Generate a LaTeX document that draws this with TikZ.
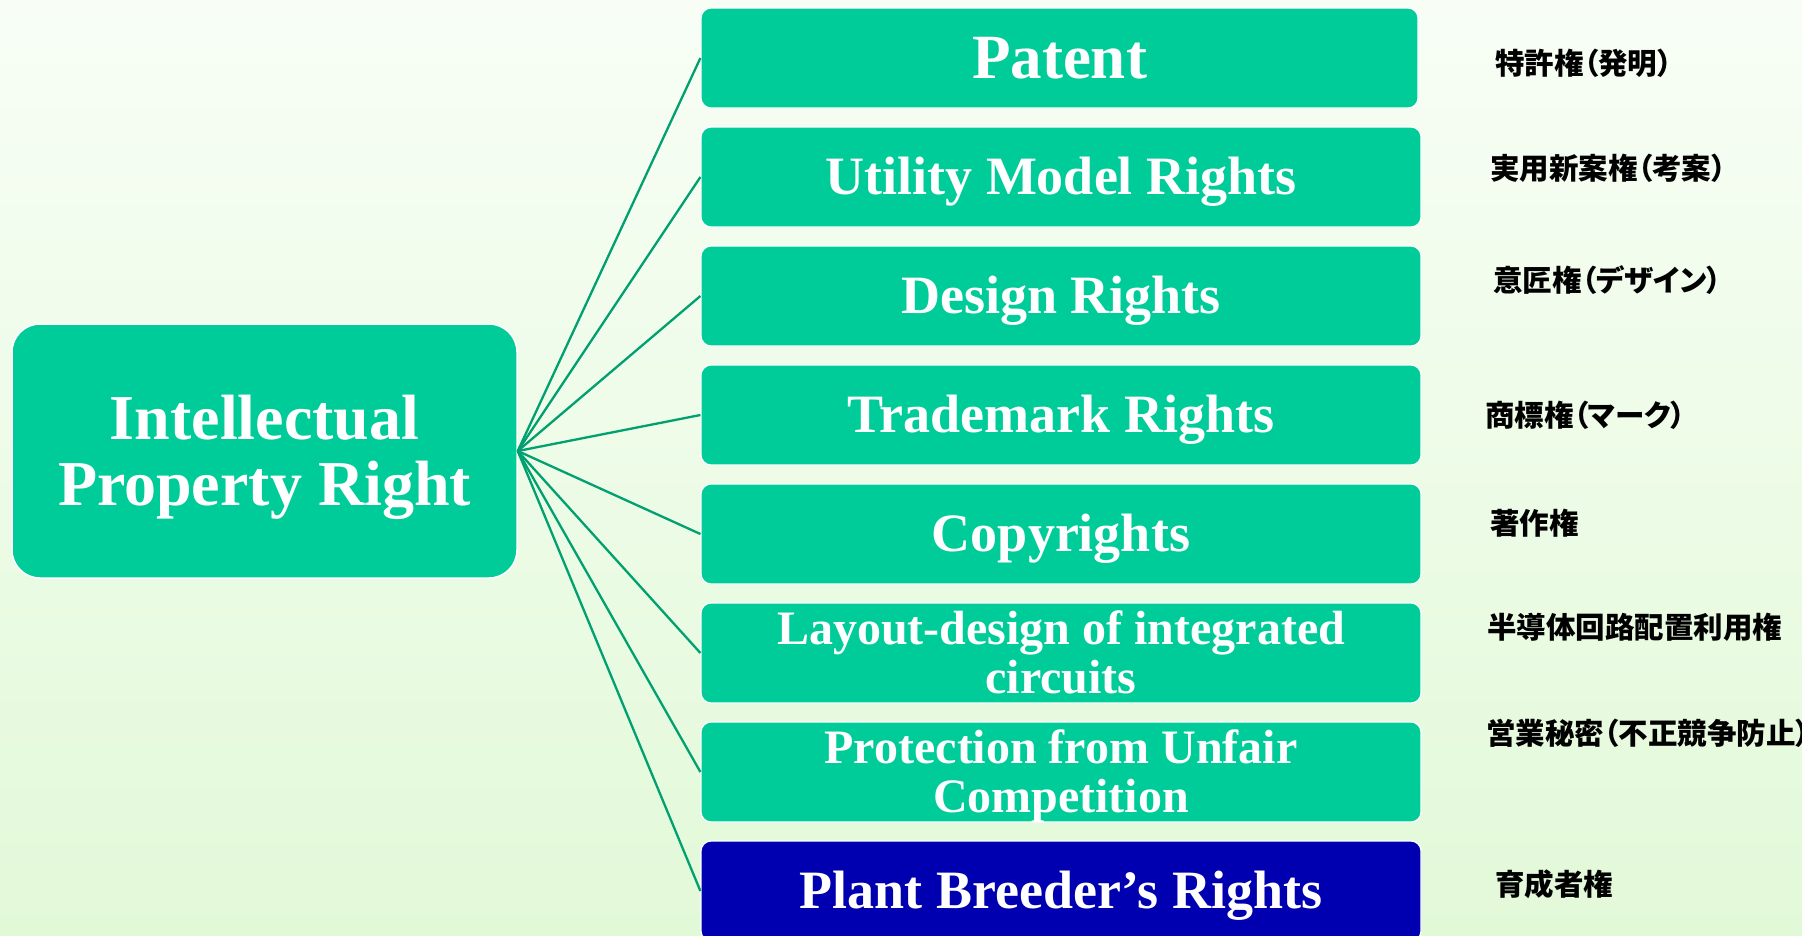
\documentclass[tikz,border=0pt]{standalone}
\usepackage{fontspec}
\setmainfont{Liberation Serif}
\newfontfamily\jpfont[RawFeature=+palt]{Noto Sans CJK JP}
\definecolor{boxgreen}{HTML}{00CC99}
\definecolor{boxblue}{HTML}{0000B0}
\definecolor{conncol}{HTML}{00A070}
\definecolor{bgtop}{HTML}{F8FEF6}
\definecolor{bgbot}{HTML}{E2F9D8}
\tikzset{
  rbox/.style={draw=white, line width=1.2pt, fill=boxgreen, rounded corners=10pt,
    minimum width=720pt, minimum height=100pt, inner sep=0pt, text=white,
    font=\bfseries\fontsize{54}{56}\selectfont, text height=35.7pt, text depth=0pt},
  rboxtwo/.style={rbox, font=\bfseries\fontsize{48}{49}\selectfont, text height=31.8pt, text depth=49pt},
  lbox/.style={draw=white, line width=1.5pt, fill=boxgreen, rounded corners=28pt,
    minimum width=505pt, minimum height=254pt, inner sep=0pt, text=white,
    font=\bfseries\fontsize{64}{66}\selectfont, text height=42.4pt, text depth=66pt},
  conn/.style={draw=conncol, line width=2.3pt},
  jp/.style={anchor=base west, inner sep=0pt, text=black, font=\jpfont\bfseries\fontsize{29.5}{30}\selectfont},
}
\newcommand{\twoline}[2]{\begin{tabular}[t]{@{}c@{}}#1\\#2\end{tabular}}
\begin{document}
\begin{tikzpicture}[x=1pt,y=-1pt]
\useasboundingbox (0,0) rectangle (1802,935);
\clip (0,0) rectangle (1802,935);
\shade[top color=bgtop, bottom color=bgbot] (0,0) rectangle (1802,935);

\node[lbox] (ipr) at (264.5,451) {\twoline{Intellectual}{Property Right}};

\node[rbox, font=\bfseries\fontsize{63}{66}\selectfont, text height=41.7pt, minimum width=717pt] (b1) at (1059.5,58) {Patent};
\node[rbox] (b2) at (1061,177) {Utility Model Rights};
\node[rbox] (b3) at (1061,296) {Design Rights};
\node[rbox] (b4) at (1061,415) {Trademark Rights};
\node[rbox] (b5) at (1061,534) {Copyrights};
\node[rboxtwo] (b6) at (1061,653) {\twoline{Layout-design of integrated}{circuits}};
\node[rboxtwo] (b7) at (1061,772) {\twoline{Protection from Unfair}{Competition}};
\node[rbox, fill=boxblue] (b8) at (1061,891) {Plant Breeder’s Rights};

\foreach \b in {b1,b2,b3,b4,b5,b6,b7,b8}
  \draw[conn] (ipr.east) -- (\b.west);

\node[jp] (j1) at (1495,74) {特許権（発明）};
\node[jp] (j2) at (1490,179) {実用新案権（考案）};
\node[jp] (j3) at (1493,291) {意匠権（デザイン）};
\node[jp] (j4) at (1485,426) {商標権（マーク）};
\node[jp] (j5) at (1490,534) {著作権};
\node[jp] (j6) at (1487,638) {半導体回路配置利用権};
\node[jp] (j7) at (1486,744) {営業秘密（不正競争防止）};
\node[jp] (j8) at (1495,895) {育成者権};
\end{tikzpicture}
\end{document}
